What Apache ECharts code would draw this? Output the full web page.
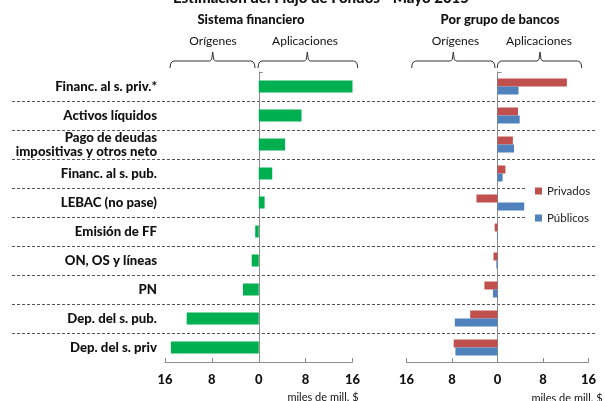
<!DOCTYPE html>
<html>
<head>
<meta charset="utf-8">
<script src="https://cdn.jsdelivr.net/npm/echarts@6/dist/echarts.min.js"></script>
<style>
  html, body { margin: 0; padding: 0; background: #fff; }
  #chart { width: 605px; height: 401px; }
</style>
</head>
<body>
<div id="chart"></div>
<script>
// Estimación del flujo de fondos, mayo 2015 (miles de millones de $)
const categories = [
  'Financ. al s. priv.*',
  'Activos líquidos',
  'Pago de deudas\nimpositivas y otros neto',
  'Financ. al s. pub.',
  'LEBAC (no pase)',
  'Emisión de FF',
  'ON, OS y líneas',
  'PN',
  'Dep. del s. pub.',
  'Dep. del s. priv'
];
const sistemaFinanciero = [16.0, 7.3, 4.5, 2.3, 1.0, -0.6, -1.2, -2.7, -12.3, -15.0];
const privados = [12.2, 3.6, 2.7, 1.4, -3.7, -0.5, -0.7, -2.3, -4.8, -7.7];
const publicos = [3.7, 3.9, 2.9, 0.9, 4.7, -0.1, -0.2, -0.8, -7.5, -7.4];
const axisTicks = [-16, -8, 0, 8, 16];
const seriesNames = ['Privados', 'Públicos'];

const FONT = 'Lato, "DejaVu Sans", sans-serif';
const HEAVY = 900;
const AXIS_GRAY = '#8c8c8c';
const GRID_TOP = 72, GRID_H = 290;

const chart = echarts.init(document.getElementById('chart'), null, { renderer: 'canvas' });

function valueAxis(gridIndex) {
  return {
    gridIndex, type: 'value',
    min: axisTicks[0], max: axisTicks[axisTicks.length - 1],
    interval: axisTicks[1] - axisTicks[0],
    axisLine: { show: true, lineStyle: { color: AXIS_GRAY, width: 1 } },
    axisTick: { show: true, inside: true, length: 4, lineStyle: { color: AXIS_GRAY } },
    splitLine: { show: false },
    axisLabel: {
      formatter: v => String(Math.abs(v)),
      fontFamily: FONT, fontWeight: HEAVY, fontSize: 13, color: '#111', margin: 11
    }
  };
}

function categoryAxis(gridIndex, showLabels) {
  return {
    gridIndex, type: 'category', inverse: true, data: categories,
    axisLine: { show: true, onZero: true, lineStyle: { color: AXIS_GRAY, width: 1 } },
    axisTick: { show: true, inside: true, length: 4, interval: i => i === 0, lineStyle: { color: AXIS_GRAY } },
    splitLine: { show: false },
    axisLabel: showLabels ? {
      margin: 8, fontFamily: FONT, fontWeight: HEAVY, fontSize: 13.2,
      lineHeight: 14, color: '#111', align: 'right'
    } : { show: false }
  };
}

// dashed row separators spanning both panels
function separatorAxis(gridIndex, keep) {
  return {
    gridIndex, type: 'category', inverse: true, data: categories,
    axisLine: { show: false }, axisTick: { show: false }, axisLabel: { show: false },
    splitLine: {
      show: true, showMinLine: false, showMaxLine: false,
      interval: keep,
      lineStyle: { type: [3, 2], color: '#555', width: 1 }
    }
  };
}

function brace(x1, x2, m) {
  const yBar = 61, yEnd = 68, yPeak = 52;
  return {
    type: 'polyline', silent: true,
    shape: { points: [
      [x1, yEnd], [x1 + 0.5, yBar + 3], [x1 + 2, yBar + 0.8], [x1 + 4, yBar],
      [m - 3, yBar], [m - 1, yBar - 1.5], [m, yPeak],
      [m + 1, yBar - 1.5], [m + 3, yBar],
      [x2 - 4, yBar], [x2 - 2, yBar + 0.8], [x2 - 0.5, yBar + 3], [x2, yEnd]
    ] },
    style: { stroke: '#333', lineWidth: 1, fill: null }
  };
}

function label(text, x, y, size, weight) {
  return {
    type: 'text', x, y, silent: true,
    style: {
      text, fill: '#111', font: weight + ' ' + size + 'px ' + FONT,
      align: 'center', verticalAlign: 'middle'
    }
  };
}

const gridBox = (left, width) => ({ left, width, top: GRID_TOP, height: GRID_H, outerBoundsMode: 'none', containLabel: false });

const option = {
  backgroundColor: '#fff',
  animation: false,
  grid: [
    gridBox(165, 187.5),
    gridBox(406.5, 182),
    gridBox(12, 515),
    gridBox(527, 68)
  ],
  xAxis: [
    valueAxis(0),
    valueAxis(1),
    { gridIndex: 2, type: 'value', show: false },
    { gridIndex: 3, type: 'value', show: false }
  ],
  yAxis: [
    categoryAxis(0, true),
    categoryAxis(1, false),
    separatorAxis(2, () => true),
    separatorAxis(3, i => i !== 4 && i !== 5)
  ],
  legend: {
    data: seriesNames, orient: 'vertical', left: 530, top: 180,
    itemWidth: 7, itemHeight: 7, itemGap: 15, icon: 'rect',
    textStyle: { fontFamily: FONT, fontSize: 11.5, color: '#222' }
  },
  series: [
    {
      name: 'Sistema financiero', type: 'bar', xAxisIndex: 0, yAxisIndex: 0,
      data: sistemaFinanciero, barWidth: 12, itemStyle: { color: '#00B050' }
    },
    {
      name: seriesNames[0], type: 'bar', xAxisIndex: 1, yAxisIndex: 1,
      data: privados, barWidth: 8, barGap: '0%', itemStyle: { color: '#C0504D' }
    },
    {
      name: seriesNames[1], type: 'bar', xAxisIndex: 1, yAxisIndex: 1,
      data: publicos, barWidth: 8, barGap: '0%', itemStyle: { color: '#4F81BD' }
    }
  ],
  graphic: [
    label('Estimación del Flujo de Fondos - Mayo 2015', 321, -2, 15, HEAVY),
    label('Sistema financiero', 251, 20, 13, HEAVY),
    label('Por grupo de bancos', 500, 20, 13, HEAVY),
    label('Orígenes', 213, 41, 12, 'normal'),
    label('Aplicaciones', 305, 41, 12, 'normal'),
    label('Orígenes', 455.5, 41, 12, 'normal'),
    label('Aplicaciones', 539, 41, 12, 'normal'),
    label('miles de mill. $', 323, 397, 11, 'normal'),
    label('miles de mill. $', 567, 398, 11, 'normal'),
    brace(170, 255, 212.7),
    brace(258, 357.7, 307.3),
    brace(411.7, 495, 453.3),
    brace(497.3, 581.7, 540)
  ]
};

chart.setOption(option);
</script>
</body>
</html>
